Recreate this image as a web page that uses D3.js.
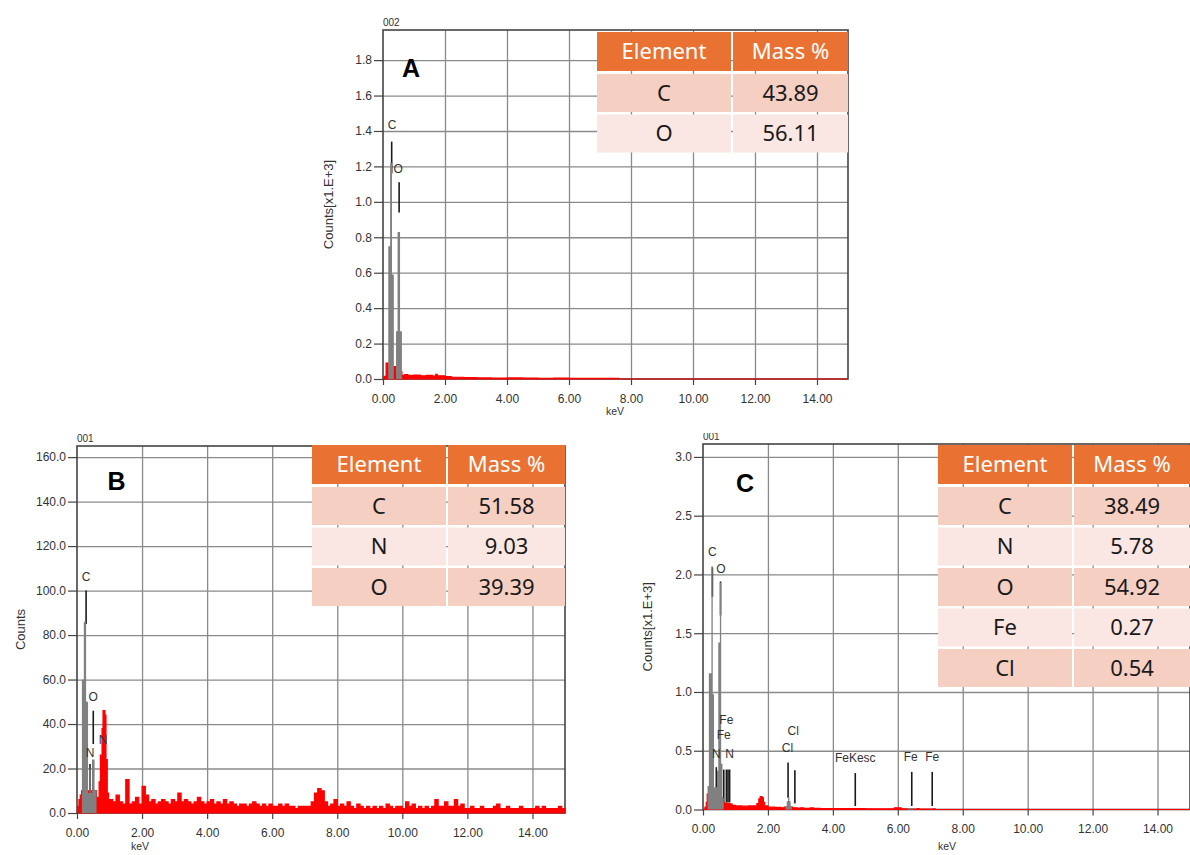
<!DOCTYPE html>
<html>
<head>
<meta charset="utf-8">
<script src="https://cdn.jsdelivr.net/npm/d3@7"></script>
<style>
  body { margin: 0; background: #fff; }
  svg { display: block; font-family: Arial, "Liberation Sans", sans-serif; }
</style>
</head>
<body>
<div class="container"></div>
<script>
// shared x axis (keV)
var xTicks = [0, 2, 4, 6, 8, 10, 12, 14];

// ---- A : counts x1000 ----
var aYTicks = [0, 0.2, 0.4, 0.6, 0.8, 1.0, 1.2, 1.4, 1.6, 1.8];
var aRed = [[0,0],[0.03,0.015],[0.1,0.09],[0.17,0.06],[0.33,0.07],[0.41,0.04],[0.61,0.02],[0.7,0.025],[0.8,0.02],
  [1.0,0.022],[1.2,0.018],[1.4,0.02],[1.6,0.016],[1.7,0.026],[1.75,0.018],[2.0,0.014],[2.2,0.01],[2.6,0.008],
  [3.0,0.006],[3.5,0.005],[4.0,0.006],[4.5,0.005],[5.0,0.004],[5.5,0.005],[6.0,0.004],[6.5,0.003],[7.0,0.004],
  [7.5,0.003],[7.6,0],[15,0]];
var aGrey = [[0.17,0.75],[0.23,1.22],[0.29,0.59],[0.35,0],[0.42,0.27],[0.47,0.83],[0.55,0.27],[0.61,0]];
var aMarkers = [
  {el: "C", e: 0.28, lo: 1.16, hi: 1.34, lx: 0.29, ly: 1.41},
  {el: "O", e: 0.52, lo: 0.94, hi: 1.11, lx: 0.49, ly: 1.16}
];
var aElements = ["C", "O"];
var aMass = ["43.89", "56.11"];

// ---- B : counts ----
var bYTicks = [0, 20, 40, 60, 80, 100, 120, 140, 160];
var bRedLow = [[0,0],[0.02,3],[0.06,6],[0.1,8],[0.14,10],[0.6,7],[0.68,14],[0.72,26],[0.77,38],[0.8,46],
  [0.86,44],[0.89,24],[0.93,9],[0.97,6]];
var bRedStart = 1.0, bRedStep = 0.1;
var bRedCounts = [6,5,8,5,4,15,4,5,7,4, 12,8,5,6,4,5,6,5,4,6, 5,9,5,6,5,4,5,7,5,4,
  5,6,4,5,4,6,4,5,4,3, 4,4,3,4,5,4,3,4,3,4, 3,3,4,3,4,3,3,2,3,3, 3,3,5,9,11,10,5,3,4,6,
  3,4,3,5,3,2,4,3,2,3, 2,3,2,3,2,4,3,2,3,3, 2,5,3,4,2,3,2,3,2,3, 6,3,3,5,3,3,6,3,4,2,
  2,3,2,2,3,2,2,2,3,4, 2,2,3,2,2,2,3,2,2,2, 2,3,2,3,2,2,2,2,3,2, 2];
var bGrey = [[0.15,60],[0.21,86],[0.28,50],[0.34,9],[0.38,20],[0.42,9],[0.46,24],[0.54,10],[0.6,0]];
var bMarkers = [
  {el: "C", e: 0.28, lo: 85, hi: 100, lx: 0.28, ly: 104.5},
  {el: "N", e: 0.40, lo: 6, hi: 22, lx: 0.40, ly: 25},
  {el: "O", e: 0.50, lo: 31, hi: 46, lx: 0.50, ly: 50.5},
  {el: "N", e: 0.80, lo: 12, hi: 28, lx: 0.80, ly: 31}
];
var bElements = ["C", "N", "O"];
var bMass = ["51.58", "9.03", "39.39"];

// ---- C : counts x1000 ----
var cYTicks = [0, 0.5, 1.0, 1.5, 2.0, 2.5, 3.0];
var cRed = [[0,0],[0.06,0.02],[0.1,0.06],[0.13,0.13],[0.18,0.1],[0.34,0.12],[0.4,0.1],[0.6,0.06],[0.66,0.055],
  [0.74,0.05],[0.84,0.045],[0.9,0.035],[1.0,0.03],[1.2,0.028],[1.4,0.03],[1.6,0.028],[1.66,0.05],[1.72,0.09],
  [1.76,0.11],[1.82,0.1],[1.86,0.06],[1.9,0.03],[2.0,0.02],[2.2,0.018],[2.4,0.015],[2.5,0.02],[2.76,0.015],
  [2.9,0.012],[3.0,0.015],[3.1,0.01],[3.3,0.013],[3.4,0.009],[3.6,0.008],[4.0,0.007],[4.5,0.007],[5.0,0.006],
  [5.5,0.006],[5.9,0.014],[6.1,0.006],[6.3,0.004],[6.6,0.008],[6.65,0.003],[7.1,0.006],[7.15,0],[15,0]];
var cGrey = [[0.14,0.2],[0.18,1.16],[0.26,2.07],[0.30,0.98],[0.34,0.19],[0.43,0.33],[0.47,1.42],[0.52,1.93],
  [0.56,0.39],[0.6,0.1],[0.64,0],[2.54,0.03],[2.58,0.07],[2.62,0.107],[2.66,0.07],[2.7,0.03],[2.74,0],
  [6.3,0.012],[6.5,0]];
var cMarkers = [
  {el: "C", e: 0.29, lo: 1.81, hi: 2.06, lx: 0.29, ly: 2.16},
  {el: "O", e: 0.54, lo: 1.65, hi: 1.94, lx: 0.55, ly: 2.01},
  {el: "N", e: 0.41, lo: 0.06, hi: 0.36, lx: 0.41, ly: 0.44},
  {el: "Fe", e: 0.64, lo: 0.06, hi: 0.34, lx: 0.64, ly: 0.60},
  {el: "Fe", e: 0.72, lo: 0.06, hi: 0.34, lx: 0.72, ly: 0.73},
  {el: "", e: 0.77, lo: 0.06, hi: 0.34, lx: 0.77, ly: 0.40},
  {el: "N", e: 0.82, lo: 0.06, hi: 0.34, lx: 0.82, ly: 0.44},
  {el: "Cl", e: 2.62, lo: 0.10, hi: 0.40, lx: 2.60, ly: 0.49},
  {el: "Cl", e: 2.83, lo: 0.05, hi: 0.335, lx: 2.78, ly: 0.63},
  {el: "FeKesc", e: 4.69, lo: 0.03, hi: 0.31, lx: 4.69, ly: 0.40},
  {el: "Fe", e: 6.43, lo: 0.03, hi: 0.32, lx: 6.40, ly: 0.41},
  {el: "Fe", e: 7.06, lo: 0.03, hi: 0.32, lx: 7.06, ly: 0.41}
];
var cElements = ["C", "N", "O", "Fe", "Cl"];
var cMass = ["38.49", "5.78", "54.92", "0.27", "0.54"];

var bRed = bRedLow.concat(bRedCounts.map(function (v, i) { return [bRedStart + i * bRedStep, v]; }));

var svg = d3.select(".container").append("svg")
    .attr("width", 1190)
    .attr("height", 855);

var panels = [
  {letter: "A", tag: "002", left: 383, right: 848, top: 30, bottom: 379, yMax: 1.97, yTicks: aYTicks,
   yLabel: "Counts[x1.E+3]", yLabelX: 328, keVX: 615, keVY: 415, letterX: 411, letterY: 77,
   red: aRed, grey: aGrey, markers: aMarkers},
  {letter: "B", tag: "001", left: 77, right: 565, top: 446, bottom: 813, yMax: 165, yTicks: bYTicks,
   yLabel: "Counts", yLabelX: 20, keVX: 140, keVY: 850, letterX: 116.5, letterY: 490,
   red: bRed, grey: bGrey, markers: bMarkers},
  {letter: "C", tag: "001", left: 703, right: 1190, top: 444, bottom: 809.5, yMax: 3.11, yTicks: cYTicks,
   yLabel: "Counts[x1.E+3]", yLabelX: 647, keVX: 947, keVY: 850, letterX: 745, letterY: 492,
   red: cRed, grey: cGrey, markers: cMarkers, clipTop: 433}
];

var tables = [
  {x0: 597, xMid: 732, x1: 848, y0: 32, el: aElements, mass: aMass},
  {x0: 312, xMid: 447, x1: 565, y0: 445, el: bElements, mass: bMass},
  {x0: 938, xMid: 1073, x1: 1190, y0: 445, el: cElements, mass: cMass}
];

panels.forEach(function (p) {
  var x = d3.scaleLinear().domain([0, 15]).range([p.left, p.right]);
  var y = d3.scaleLinear().domain([0, p.yMax]).range([p.bottom, p.top]);
  var g = svg.append("g");

  // grid
  g.append("g")
      .attr("transform", "translate(0," + p.bottom + ")")
      .call(d3.axisBottom(x).tickValues(xTicks.slice(1)).tickSize(-(p.bottom - p.top)).tickFormat(""))
      .call(function (s) { s.select(".domain").remove(); })
      .selectAll("line").attr("stroke", "#8a8a8a").attr("stroke-width", 1.3);
  g.append("g")
      .attr("transform", "translate(" + p.left + ",0)")
      .call(d3.axisLeft(y).tickValues(p.yTicks.slice(1)).tickSize(-(p.right - p.left)).tickFormat(""))
      .call(function (s) { s.select(".domain").remove(); })
      .selectAll("line").attr("stroke", "#8a8a8a").attr("stroke-width", 1.3);

  // frame
  g.append("rect")
      .attr("x", p.left).attr("y", p.top)
      .attr("width", p.right - p.left).attr("height", p.bottom - p.top)
      .attr("fill", "none").attr("stroke", "#444").attr("stroke-width", 1.6);

  // axes
  var xa = g.append("g")
      .attr("transform", "translate(0," + p.bottom + ")")
      .call(d3.axisBottom(x).tickValues(xTicks).tickSize(6).tickPadding(9).tickFormat(d3.format(".2f")));
  var ya = g.append("g")
      .attr("transform", "translate(" + p.left + ",0)")
      .call(d3.axisLeft(y).tickValues(p.yTicks).tickSize(9).tickPadding(2).tickFormat(d3.format(".1f")));
  [xa, ya].forEach(function (a) {
    a.select(".domain").remove();
    a.selectAll("line").attr("stroke", "#444").attr("stroke-width", 1.2);
    a.selectAll("text").attr("fill", "#333").attr("font-size", 12)
        .attr("font-family", "Arial, 'Liberation Sans', sans-serif");
  });

  // markers
  g.append("g").selectAll("line")
      .data(p.markers).enter().append("line")
      .attr("x1", function (d) { return x(d.e); })
      .attr("x2", function (d) { return x(d.e); })
      .attr("y1", function (d) { return y(d.lo); })
      .attr("y2", function (d) { return y(d.hi); })
      .attr("stroke", "#1a1a1a").attr("stroke-width", 1.6);

  // spectrum
  var area = d3.area()
      .curve(d3.curveStepAfter)
      .x(function (d) { return x(d[0]); })
      .y0(y(0))
      .y1(function (d) { return y(d[1]); });
  g.append("path").datum(p.red).attr("d", area)
      .attr("fill", "#ff0000").attr("stroke", "#ff0000").attr("stroke-width", 1.2);
  g.append("path").datum(p.grey).attr("d", area)
      .attr("fill", "#808080");

  g.append("g").selectAll("text")
      .data(p.markers.filter(function (d) { return d.el; })).enter().append("text")
      .attr("x", function (d) { return x(d.lx); })
      .attr("y", function (d) { return y(d.ly); })
      .attr("text-anchor", "middle")
      .attr("font-size", 12).attr("fill", "#333")
      .text(function (d) { return d.el; });

  // labels
  var tag = g.append("text")
      .attr("x", p.left).attr("y", p.top - 4)
      .attr("font-size", 10).attr("fill", "#333")
      .text(p.tag);
  if (p.clipTop) {
    var cid = "clip" + p.letter;
    svg.append("clipPath").attr("id", cid).append("rect")
        .attr("x", 0).attr("y", p.clipTop).attr("width", 1190).attr("height", 855 - p.clipTop);
    tag.attr("clip-path", "url(#" + cid + ")");
  }
  g.append("text")
      .attr("transform", "translate(" + p.yLabelX + "," + (p.top + p.bottom) / 2 + ") rotate(-90)")
      .attr("text-anchor", "middle").attr("dy", "0.35em")
      .attr("font-size", 13).attr("fill", "#333")
      .text(p.yLabel);
  g.append("text")
      .attr("x", p.keVX).attr("y", p.keVY)
      .attr("text-anchor", "middle")
      .attr("font-size", 10.5).attr("fill", "#333")
      .text("keV");
  g.append("text")
      .attr("x", p.letterX).attr("y", p.letterY)
      .attr("text-anchor", "middle")
      .attr("font-size", 25).attr("font-weight", "bold").attr("fill", "#000")
      .text(p.letter);
});

// mass % tables
var headerColor = "#E97132";
var rowColors = ["#F5CFC2", "#FAE7E3"];
tables.forEach(function (t) {
  var g = svg.append("g").attr("font-family", "'Noto Sans', 'Open Sans', sans-serif").attr("font-size", 22);
  var headH = 39, pitch = 40.5, rowH = 38, gap = 2;
  var cols = [[t.x0, t.xMid - gap / 2], [t.xMid + gap / 2, t.x1]];
  var head = ["Element", "Mass %"];
  cols.forEach(function (c, ci) {
    g.append("rect").attr("x", c[0]).attr("y", t.y0).attr("width", c[1] - c[0]).attr("height", headH)
        .attr("fill", headerColor);
    g.append("text").attr("x", (c[0] + c[1]) / 2).attr("y", t.y0 + headH / 2).attr("dy", "0.36em")
        .attr("text-anchor", "middle").attr("fill", "#fff").text(head[ci]);
  });
  t.el.forEach(function (el, i) {
    var ry = t.y0 + 42 + i * pitch;
    var vals = [el, t.mass[i]];
    cols.forEach(function (c, ci) {
      g.append("rect").attr("x", c[0]).attr("y", ry).attr("width", c[1] - c[0]).attr("height", rowH)
          .attr("fill", rowColors[i % 2]);
      g.append("text").attr("x", (c[0] + c[1]) / 2).attr("y", ry + rowH / 2).attr("dy", "0.36em")
          .attr("text-anchor", "middle").attr("fill", "#1a1a1a").text(vals[ci]);
    });
  });
});
</script>
</body>
</html>
